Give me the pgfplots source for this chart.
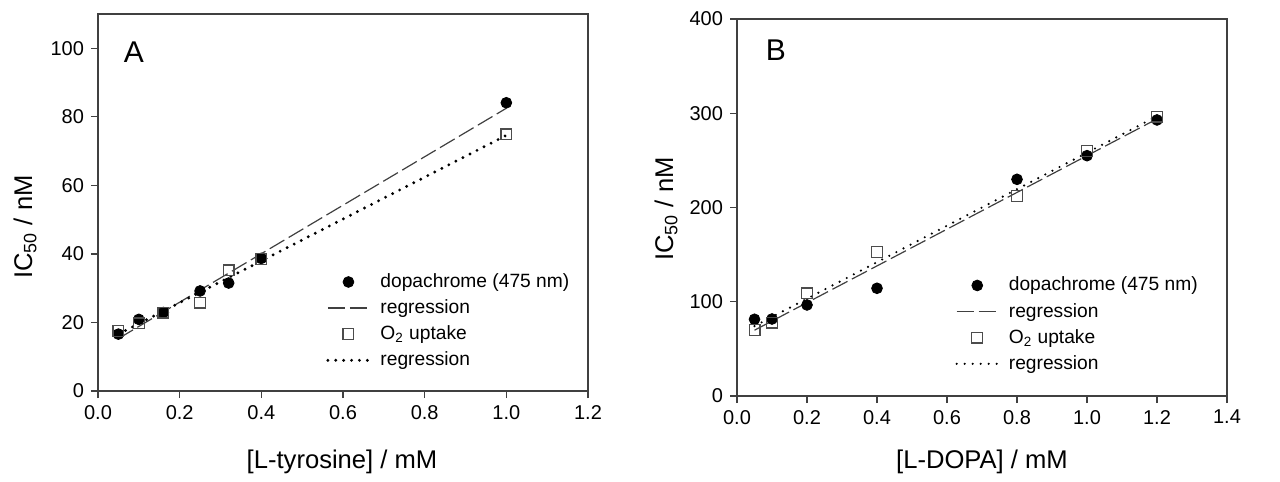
\documentclass[border=0pt]{standalone}
\usepackage{fontspec}
\setmainfont{Liberation Sans}
\usepackage{pgfplots}
\pgfplotsset{compat=1.18}

\pgfplotsset{
  panel/.style={
    scale only axis, width=245pt, height=188.5pt,
    anchor=south west,
    axis line style={black!75, line width=0.6pt},
    tick align=outside, tick pos=left,
    major tick length=3.5pt,
    major tick style={black!75, line width=0.6pt},
    /pgf/number format/assume math mode=true,
    tick label style={font=\fontsize{10}{12}\selectfont},
    xticklabel style={/pgf/number format/.cd, fixed, fixed zerofill, precision=1},
    label style={font=\fontsize{12.8}{15}\selectfont},
    legend style={draw=none, fill=none, anchor=north west,
      font=\fontsize{9.6}{11}\selectfont, inner sep=0pt,
      nodes={inner sep=1pt}, row sep=2.6pt, column sep=4pt},
    legend cell align=left,
  },
  dot/.style={only marks, mark=*, mark size=2.7pt, black,
    legend image code/.code={\draw[##1] plot coordinates {(10.3pt,0pt)};}},
  box/.style={only marks, mark=square, mark size=2.7pt,
    mark options={draw=black!70, line width=0.6pt, fill=white},
    legend image code/.code={\draw[##1] plot coordinates {(10.3pt,0pt)};}},
  linelegend/.style={legend image code/.code={\draw[##1] (0pt,0pt) -- (20.5pt,0pt);}},
}

\begin{document}
\begin{tikzpicture}
\useasboundingbox (0,0) rectangle (640pt,-241pt);

% panel A
\begin{axis}[panel, at={(49pt,-195.5pt)},
  xmin=0, xmax=1.2, xtick={0,0.2,...,1.2},
  ymin=0, ymax=110, ytick={0,20,...,100},
  xlabel={[L-tyrosine] / mM},
  ylabel={IC\textsubscript{50} / nM},
  xlabel style={at={(axis description cs:0.498,-0.188)}, anchor=center},
  ylabel style={at={(axis description cs:-0.149,0.435)}, anchor=center},
  legend style={at={(0.465,0.318)}},
]
\addplot[dot] coordinates {
  (0.05,16.6) (0.10,20.9) (0.16,22.9) (0.25,29.2) (0.32,31.5) (0.40,38.7) (1.00,84.1)};
\addlegendentry{dopachrome (475 nm)}
\addplot[linelegend, black!75, line width=0.6pt, dash pattern=on 8.5pt off 2.5pt]
  coordinates {(0.05,15.3) (1.00,82.5)};
\addlegendentry{regression}
\addplot[box] coordinates {
  (0.05,17.5) (0.10,19.7) (0.16,22.9) (0.25,25.8) (0.32,35.2) (0.40,38.5) (1.00,74.9)};
\addlegendentry{O\textsubscript{2} uptake}
\addplot[linelegend, black, line width=1.6pt, line cap=round, dash pattern=on 0pt off 3.95pt]
  coordinates {(0.05,16.6) (1.00,74.6)};
\addlegendentry{regression}
\node[font=\fontsize{15}{17}\selectfont] at (axis cs:0.088,99) {A};
\end{axis}

% panel B
\begin{axis}[panel, at={(368.5pt,-198pt)},
  xmin=0, xmax=1.4, xtick={0,0.2,...,1.4},
  ymin=0, ymax=400, ytick={0,100,...,400},
  xlabel={[L-DOPA] / mM},
  ylabel={IC\textsubscript{50} / nM},
  xlabel style={at={(axis description cs:0.5,-0.175)}, anchor=center},
  ylabel style={at={(axis description cs:-0.145,0.496)}, anchor=center},
  legend style={at={(0.445,0.322)}},
]
\addplot[dot] coordinates {
  (0.05,81.4) (0.10,81.7) (0.20,96.6) (0.40,114.3) (0.80,229.9) (1.00,255.0) (1.20,292.9)};
\addlegendentry{dopachrome (475 nm)}
\addplot[linelegend, black!75, line width=0.6pt, dash pattern=on 8.5pt off 2.5pt]
  coordinates {(0.05,69.8) (1.20,294.0)};
\addlegendentry{regression}
\addplot[box] coordinates {
  (0.05,70.0) (0.10,77.8) (0.20,108.9) (0.40,152.5) (0.80,212.2) (1.00,260.0) (1.20,296.4)};
\addlegendentry{O\textsubscript{2} uptake}
\addplot[linelegend, black, line width=1.2pt, line cap=round, dash pattern=on 0pt off 4pt]
  coordinates {(0.05,74.2) (1.20,296.9)};
\addlegendentry{regression}
\node[font=\fontsize{15}{17}\selectfont] at (axis cs:0.111,366.6) {B};
\end{axis}
\end{tikzpicture}
\end{document}
